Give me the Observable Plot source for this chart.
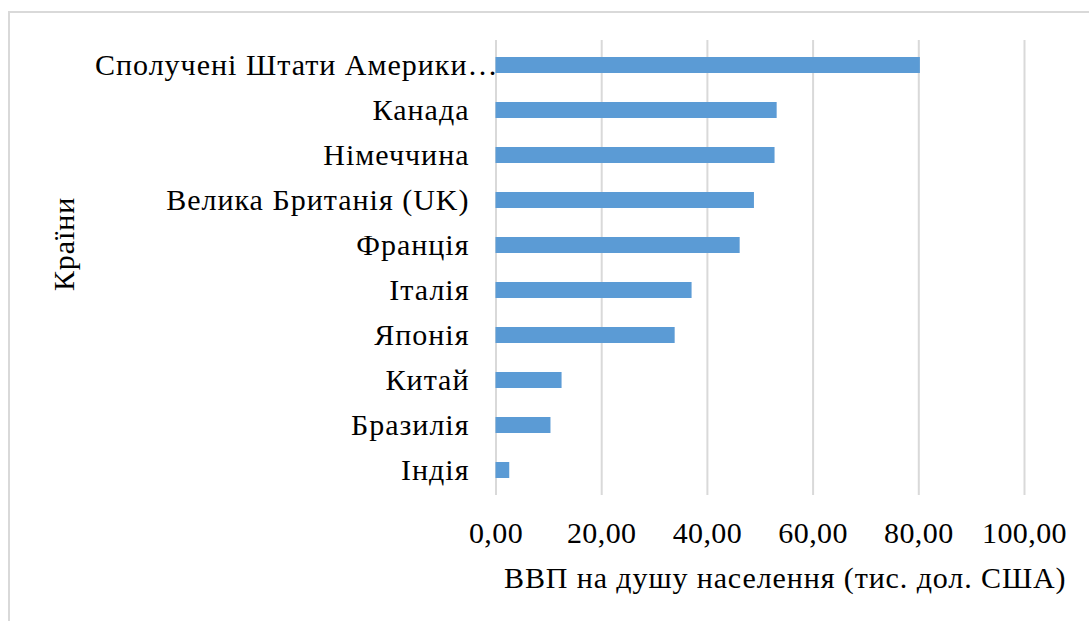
<!DOCTYPE html>
<html>
<head>
<meta charset="utf-8">
<script src="https://cdn.jsdelivr.net/npm/d3@7"></script>
<script src="https://cdn.jsdelivr.net/npm/@observablehq/plot@0.6"></script>
<style>
  html, body { margin: 0; padding: 0; background: #fff; }
  body { font-family: "Liberation Serif", serif; }
  .wrap { position: relative; width: 1089px; height: 621px; overflow: hidden; }
  .frame { position: absolute; left: 8px; top: 11px; width: 1200px; height: 800px; border: 2px solid #d9d9d9; box-sizing: border-box; }
  .chart { position: absolute; left: 0; top: 0; }
  .chart g[aria-label="y-axis tick label"] text { letter-spacing: 1px; }
  .chart g[aria-label="text"] text { letter-spacing: 0.9px; }
  .chart g[aria-label="x-axis tick label"] text { letter-spacing: 0.4px; }
</style>
</head>
<body>
<div class="wrap"><div class="frame"></div><div class="chart" id="chart"></div></div>
<script>
const countries = [
  "Сполучені Штати Америки…",
  "Канада",
  "Німеччина",
  "Велика Британія (UK)",
  "Франція",
  "Італія",
  "Японія",
  "Китай",
  "Бразилія",
  "Індія"
];
const gdpPerCapita = [80.3, 53.2, 52.8, 48.9, 46.2, 37.1, 33.9, 12.5, 10.4, 2.6];
const xTicks = [0, 20, 40, 60, 80, 100];
const xTitle = "ВВП на душу населення (тис. дол. США)";
const yTitle = "Країни";

const data = countries.map((c, i) => ({country: c, value: gdpPerCapita[i]}));
const fmt = d => d.toFixed(2).replace(".", ",");
const font = "Liberation Serif";

const chart = Plot.plot({
  width: 1089,
  height: 621,
  marginLeft: 495.5,
  marginRight: 65,
  marginTop: 40,
  marginBottom: 126,
  style: "font-family: 'Liberation Serif', serif; font-size: 30px; color: #000; background: transparent;",
  x: {domain: [0, 100], ticks: xTicks, tickFormat: fmt, label: null},
  y: {domain: countries, paddingInner: 0.65, paddingOuter: 0.325, label: null},
  marks: [
    Plot.gridX(xTicks, {stroke: "#d9d9d9", strokeOpacity: 1, strokeWidth: 2}),
    Plot.barX(data, {x: "value", y: "country", fill: "#5b9bd5"}),
    Plot.axisX({ticks: xTicks, tickFormat: fmt, tickSize: 0, tickPadding: 26.5, label: null, fontSize: 30, fontFamily: font}),
    Plot.axisY({ticks: countries.slice(1), tickSize: 0, tickPadding: 26.5, label: null, fontSize: 30, fontFamily: font}),
    Plot.axisY({ticks: countries.slice(0, 1), tickSize: 0, tickPadding: -2.5, label: null, fontSize: 30, fontFamily: font}),
    Plot.text([xTitle], {frameAnchor: "bottom", textAnchor: "middle", lineAnchor: "middle", dx: 25, dy: 82.5, text: d => d, fontSize: 30, fontFamily: font, fill: "#000"}),
    Plot.text([yTitle], {frameAnchor: "left", textAnchor: "middle", lineAnchor: "middle", dx: -431.5, dy: -24, rotate: -90, text: d => d, fontSize: 30, fontFamily: font, fill: "#000"})
  ]
});
document.getElementById("chart").appendChild(chart);
</script>
</body>
</html>
